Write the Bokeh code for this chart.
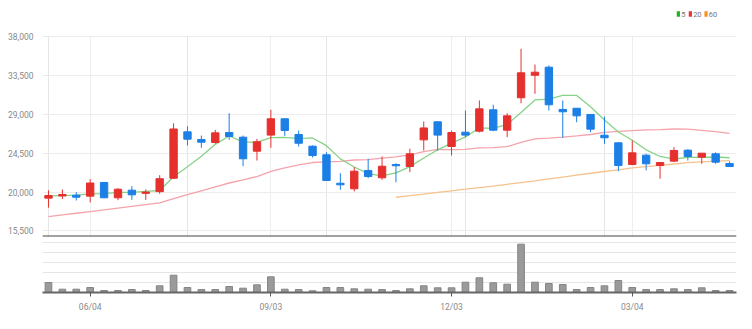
import numpy as np
import pandas as pd
from bokeh.plotting import figure
from bokeh.layouts import column
from bokeh.models import (ColumnDataSource, FixedTicker, NumeralTickFormatter, Span,
                          Range1d, Grid)
from bokeh.core.properties import value
from bokeh.embed import file_html
from bokeh.resources import INLINE

# ---------------- data (weekly candles) ----------------
first_week = "2018-05-14"
n_weeks = 50
opens = [19300, 19550, 19640, 19530, 21110, 19340, 20220, 19850, 20050, 21600,
         26970, 26080, 25740, 26890, 26350, 24730, 26590, 28480, 26660, 25310,
         24310, 21020, 20380, 22500, 21650, 23190, 22960, 26040, 28130, 25270,
         26930, 27050, 29520, 27160, 30910, 33520, 34450, 29560, 29700, 28980,
         26580, 25700, 23190, 24270, 23070, 23580, 24850, 24040, 24430, 23300]
highs = [20200, 20300, 19990, 21500, 21150, 20450, 20680, 20300, 21950, 27950,
         27620, 26540, 27200, 29120, 26540, 26160, 29520, 28500, 27120, 25400,
         24610, 22180, 22880, 23850, 24120, 23340, 25010, 28170, 28200, 27120,
         29440, 30600, 30100, 29120, 36580, 34760, 34650, 30600, 29700, 29000,
         28740, 25750, 25970, 24430, 23450, 25190, 24960, 24500, 24600, 23540]
lows = [18200, 19200, 19025, 18800, 19300, 19060, 19100, 19100, 19800, 21500,
        25390, 25120, 25600, 26050, 23000, 23650, 25120, 26500, 25270, 24000,
        21300, 20270, 20070, 21600, 21420, 21140, 22300, 24810, 24810, 24230,
        26350, 26900, 27050, 26350, 30280, 31370, 29440, 26280, 28080, 26930,
        25580, 22420, 23100, 22500, 21540, 23460, 23650, 23270, 23270, 22960]
closes = [19600, 19720, 19410, 21050, 19340, 20330, 19680, 20000, 21550, 27300,
          26120, 25770, 26850, 26430, 23850, 25820, 28480, 27130, 25650, 24230,
          21340, 20840, 22420, 21800, 22990, 23040, 24430, 27420, 26590, 26890,
          26590, 29630, 27160, 28820, 33800, 33870, 30100, 29290, 28820, 27280,
          26280, 23070, 24540, 23270, 23420, 24810, 24120, 24500, 23460, 22960]
volumes = [10000, 3300, 3300, 5000, 2000, 2000, 3000, 2000, 6700, 17300,
           5000, 3000, 3000, 6000, 4300, 7700, 15700, 3300, 3000, 1700,
           5000, 5000, 3700, 3300, 3000, 2000, 3700, 6700, 4700, 4700,
           10300, 14700, 9700, 8300, 48300, 10300, 9000, 8000, 3000, 5000,
           6700, 12000, 5000, 3000, 3000, 3700, 3000, 4700, 2000, 2000]
ma5 = [19550, 19600, 19650, 19800, 19820, 19970, 19960, 20080, 20180, 21770,
       22930, 24150, 25520, 26490, 25800, 25740, 26290, 26340, 26190, 26260,
       25370, 23840, 22900, 22130, 21880, 22220, 22940, 23940, 24890, 25670,
       26380, 27420, 27370, 27820, 29200, 30660, 30750, 31180, 31180, 29870,
       28350, 26950, 26000, 24890, 24120, 23820, 24030, 24020, 24060, 23970]
ma20 = [17150, 17350, 17550, 17750, 17950, 18150, 18350, 18550, 18750, 19250,
        19700, 20150, 20600, 21050, 21400, 21800, 22400, 22800, 23150, 23420,
        23500, 23560, 23710, 23750, 23930, 24070, 24300, 24670, 24930, 24910,
        24930, 25120, 25140, 25260, 25750, 26160, 26240, 26350, 26500, 26660,
        26900, 27020, 27120, 27190, 27220, 27300, 27290, 27140, 26990, 26790]
ma60 = [None] * 25 + [19400, 19580, 19770, 19960, 20150, 20330, 20520, 20700, 20900, 21100,
                      21300, 21520, 21740, 21960, 22180, 22380, 22560, 22800, 22950, 23100,
                      23250, 23400, 23500, 23580, 23650]
price_ticks = [15500, 20000, 24500, 29000, 33500, 38000]
date_tick_labels = ["06/04", "09/03", "12/03", "03/04"]
legend_labels = ["5", "20", "60"]
legend_colors = ["#1fb41f", "#ea3535", "#f59222"]

# ---------------- derived ----------------
weeks = pd.date_range(first_week, periods=n_weeks, freq="7D")
week_labels = [d.strftime("%m/%d") for d in weeks]
idx = list(range(n_weeks))
tick_pos = [week_labels.index(t) for t in date_tick_labels]

UP, DOWN = "#e5302e", "#1b7fe6"
colors = [UP if c >= o else DOWN for o, c in zip(opens, closes)]
src = ColumnDataSource(dict(
    x=idx, o=opens, h=highs, l=lows, c=closes,
    top=[max(o, c) for o, c in zip(opens, closes)],
    bot=[min(o, c) for o, c in zip(opens, closes)],
    color=colors, vol=volumes,
    ma5=ma5, ma20=ma20,
    ma60=[np.nan if v is None else v for v in ma60],
))

FONT = "Roboto"
LABEL_COLOR = "#888888"
W = 752

# ---------------- legend strip (top) ----------------
leg = figure(width=W, height=29, x_range=Range1d(0, W), y_range=Range1d(0, 29),
             output_backend="svg", toolbar_location=None,
             x_axis_location=None, y_axis_location=None,
             min_border_left=0, min_border_right=0, min_border_top=0, min_border_bottom=0)
leg.outline_line_color = None
leg.xgrid.visible = False
leg.ygrid.visible = False
leg_x = [689.0, 702.0, 719.0]
leg.rect(x=leg_x, y=[15.5] * 3, width=3.5, height=5.5, fill_color=legend_colors,
         line_color=None)
leg.text(x=[x + 3.0 for x in leg_x], y=[15.5] * 3, text=legend_labels,
         text_color="#777777", text_font=value(FONT), text_font_size="7.5px",
         text_baseline="middle", text_align="left")

# ---------------- price panel ----------------
price = figure(width=W, height=209, x_range=Range1d(-0.43, 49.5),
               y_range=Range1d(14860, 38116), output_backend="svg",
               toolbar_location=None, x_axis_location=None,
               min_border_left=42, min_border_right=16, min_border_top=6,
               min_border_bottom=2)
price.outline_line_color = None

price.yaxis.ticker = FixedTicker(ticks=price_ticks)
price.yaxis.formatter = NumeralTickFormatter(format="0,0")
price.yaxis.axis_line_color = None
price.yaxis.major_tick_line_color = None
price.yaxis.minor_tick_line_color = None
price.yaxis.major_label_standoff = 3
price.yaxis.major_label_text_font = FONT
price.yaxis.major_label_text_font_size = "8.5px"
price.yaxis.major_label_text_color = LABEL_COLOR
price.ygrid.grid_line_color = "#ececec"
price.add_layout(Grid(dimension=0, ticker=FixedTicker(ticks=tick_pos),
                      grid_line_color="#eeeeee"))

price.line("x", "ma20", source=src, line_color="#f5a3ab", line_width=1.3)
price.line("x", "ma60", source=src, line_color="#f6c28e", line_width=1.3)
price.line("x", "ma5", source=src, line_color="#86d386", line_width=1.3)

price.segment(x0="x", y0="h", x1="x", y1="l", source=src, line_color="color", line_width=1)
price.vbar(x="x", width=0.53, top="top", bottom="bot", source=src,
           fill_color="color", line_color="color")

price.add_layout(Span(location=14860, dimension="width", line_color="#444444", line_width=2))

# ---------------- volume panel ----------------
volf = figure(width=W, height=91, x_range=price.x_range, y_range=Range1d(0, 54000),
              output_backend="svg", toolbar_location=None, y_axis_location=None,
              min_border_left=42, min_border_right=16, min_border_top=0,
              min_border_bottom=37)
volf.outline_line_color = None
volf.vbar(x="x", width=0.48, top="vol", source=src, fill_color="#9a9a9a", line_color="#858585")
volf.xaxis.ticker = FixedTicker(ticks=tick_pos)
volf.xaxis.major_label_overrides = {p: t for p, t in zip(tick_pos, date_tick_labels)}
volf.xaxis.axis_line_color = "#666666"
volf.xaxis.axis_line_width = 2
volf.xaxis.major_tick_line_color = "#555555"
volf.xaxis.major_tick_out = 4
volf.xaxis.major_tick_in = 0
volf.xaxis.minor_tick_line_color = None
volf.xaxis.major_label_standoff = 5
volf.xaxis.major_label_text_font = FONT
volf.xaxis.major_label_text_font_size = "8.5px"
volf.xaxis.major_label_text_color = LABEL_COLOR
volf.xgrid.visible = False

layout = column(leg, price, volf, spacing=0)
open("out.html", "w").write(file_html(layout, INLINE))
